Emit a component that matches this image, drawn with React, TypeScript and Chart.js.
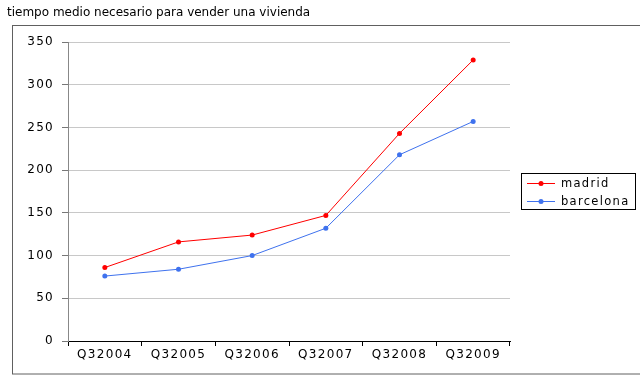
import React, { useEffect, useRef } from "react";
import { Chart, registerables } from "chart.js";

Chart.register(...registerables);

const TITLE = "tiempo medio necesario para vender una vivienda";
const categories = ["Q32004", "Q32005", "Q32006", "Q32007", "Q32008", "Q32009"];
const madrid = [86, 116, 124, 147, 243, 329];
const barcelona = [76, 84, 100, 132, 218, 257];
const seriesNames = ["madrid", "barcelona"];
const seriesColors = ["#ff0000", "#3f72ee"];
const yTicks = [0, 50, 100, 150, 200, 250, 300, 350];

const FONT = "DejaVu Sans, Verdana, sans-serif";

const decorPlugin = {
  id: "decor",
  beforeDraw(chart: any) {
    const ctx = chart.ctx;
    ctx.save();
    ctx.fillStyle = "#ffffff";
    ctx.fillRect(0, 0, chart.width, chart.height);
    // frame
    ctx.strokeStyle = "#606060";
    ctx.lineWidth = 1;
    ctx.strokeRect(12.5, 25.5, 640, 348.5);
    // title
    ctx.letterSpacing = "0px";
    ctx.fillStyle = "#000000";
    ctx.font = `12px ${FONT}`;
    ctx.textBaseline = "middle";
    ctx.textAlign = "left";
    ctx.fillText(TITLE, 7, 13);
    ctx.restore();
    ctx.letterSpacing = "1.3px";
  },
  afterDraw(chart: any) {
    const ctx = chart.ctx;
    ctx.save();
    // legend
    const x0 = 521, y0 = 173, w = 114, h = 36;
    ctx.strokeStyle = "#000000";
    ctx.lineWidth = 1;
    ctx.strokeRect(x0 + 0.5, y0 + 0.5, w, h);
    ctx.letterSpacing = "1.3px";
    ctx.font = `11.5px ${FONT}`;
    ctx.textBaseline = "middle";
    ctx.textAlign = "left";
    chart.data.datasets.forEach((ds: any, i: number) => {
      const cy = y0 + 10 + i * 18;
      ctx.strokeStyle = ds.borderColor;
      ctx.lineWidth = 1;
      ctx.beginPath();
      ctx.moveTo(x0 + 6, cy + 0.5);
      ctx.lineTo(x0 + 34, cy + 0.5);
      ctx.stroke();
      ctx.fillStyle = ds.backgroundColor;
      ctx.beginPath();
      ctx.arc(x0 + 20, cy + 0.5, 2.5, 0, Math.PI * 2);
      ctx.fill();
      ctx.fillStyle = "#000000";
      ctx.fillText(ds.label, x0 + 40, cy + 1);
    });
    ctx.restore();
  },
};

export default function App() {
  const ref = useRef<HTMLCanvasElement | null>(null);
  useEffect(() => {
    if (!ref.current) return;
    const chart = new Chart(ref.current, {
      type: "line",
      data: {
        labels: categories,
        datasets: [madrid, barcelona].map((d, i) => ({
          label: seriesNames[i],
          data: d,
          borderColor: seriesColors[i],
          backgroundColor: seriesColors[i],
          borderWidth: 1,
          pointRadius: 2.5,
          pointBorderWidth: 0,
          pointHoverRadius: 2.5,
          tension: 0,
          fill: false,
        })),
      },
      options: {
        responsive: false,
        animation: false,
        devicePixelRatio: 1,
        layout: { padding: { left: 0, top: 42, right: 130, bottom: 0 } },
        plugins: {
          legend: { display: false },
          title: { display: false },
          tooltip: { enabled: false },
        },
        scales: {
          x: {
            offset: true,
            afterFit: (s: any) => { s.height = 38; },
            grid: {
              offset: true,
              drawOnChartArea: false,
              drawTicks: true,
              tickLength: 5,
              tickColor: "#000000",
            },
            border: { display: true, color: "#000000", width: 1 },
            ticks: {
              color: "#000000",
              font: { family: FONT, size: 12 },
              padding: 2,
              maxRotation: 0,
              autoSkip: false,
            },
          },
          y: {
            min: 0,
            max: 350,
            afterFit: (s: any) => { s.width = 68; },
            afterBuildTicks: (s: any) => { s.ticks = yTicks.map((v) => ({ value: v })); },
            grid: {
              color: "#c8c8c8",
              tickColor: "#777777",
              tickLength: 6,
              drawTicks: true,
            },
            border: { display: true, color: "#888888", width: 1 },
            ticks: {
              color: "#000000",
              font: { family: FONT, size: 12 },
              padding: 8,
              stepSize: 50,
            },
          },
        },
      },
      plugins: [decorPlugin],
    });
    return () => chart.destroy();
  }, []);
  return (
    <div style={{ position: "fixed", left: 0, top: 0, width: 640, height: 379, background: "#fff" }}>
      <canvas ref={ref} width={640} height={379} style={{ display: "block", width: 640, height: 379 }} />
    </div>
  );
}
